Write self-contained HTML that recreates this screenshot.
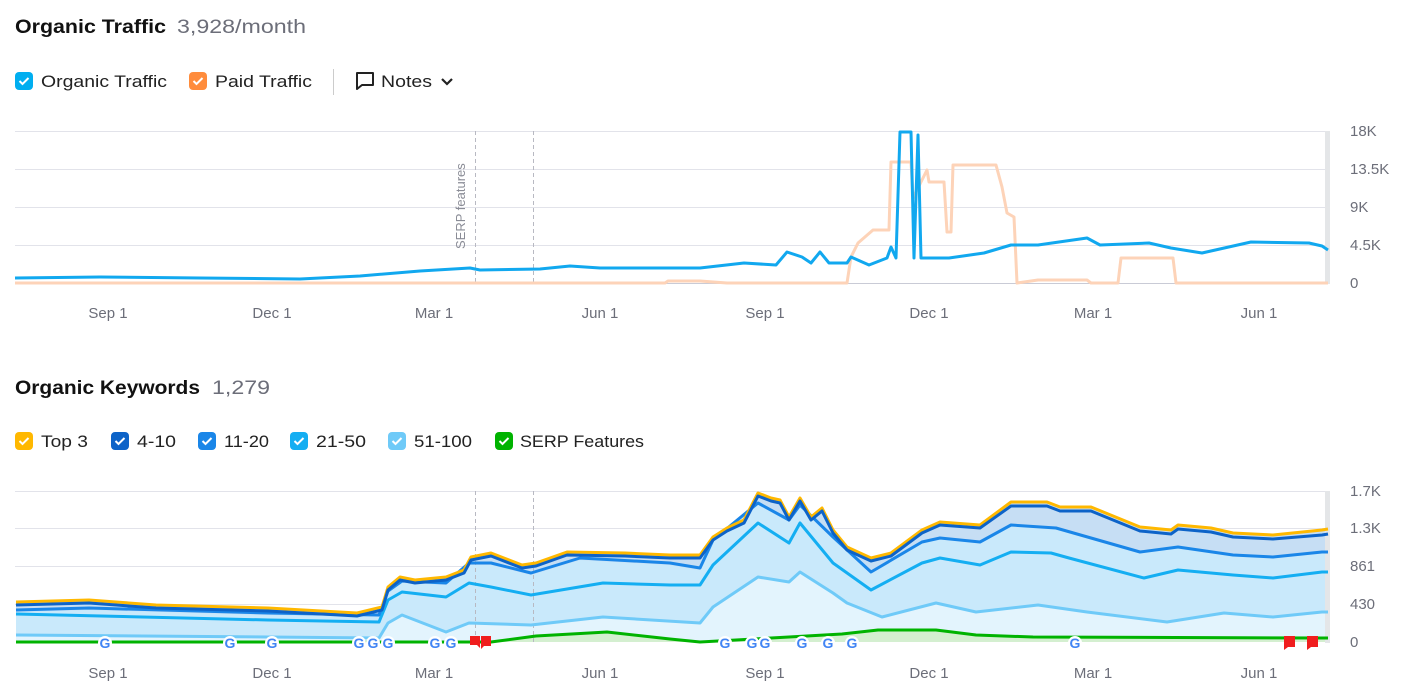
<!DOCTYPE html>
<html><head><meta charset="utf-8"><style>
html,body{margin:0;padding:0;background:#fff;width:1404px;height:689px;overflow:hidden;font-family:"Liberation Sans",sans-serif;}
svg{position:absolute;left:0;top:0}
</style></head><body>
<svg width="1404" height="689" viewBox="0 0 1404 689" xmlns="http://www.w3.org/2000/svg" font-family="Liberation Sans, sans-serif">
<text x="15" y="33" font-size="19" font-weight="bold" fill="#111" textLength="151" lengthAdjust="spacingAndGlyphs">Organic Traffic</text>
<text x="177" y="33" font-size="19" fill="#6c6e79" textLength="129" lengthAdjust="spacingAndGlyphs">3,928/month</text>
<text x="15" y="394" font-size="19" font-weight="bold" fill="#111" textLength="185" lengthAdjust="spacingAndGlyphs">Organic Keywords</text>
<text x="212" y="394" font-size="19" fill="#6c6e79" textLength="58" lengthAdjust="spacingAndGlyphs">1,279</text>

<g font-size="17" fill="#222">
<rect x="15" y="72" width="18" height="18" rx="4" fill="#00aef0"/><path d="M19.5 81 l3 3 l6 -6" stroke="#fff" stroke-width="2" fill="none"/>
<text x="41" y="87" textLength="126" lengthAdjust="spacingAndGlyphs">Organic Traffic</text>
<rect x="189" y="72" width="18" height="18" rx="4" fill="#ff8c3c"/><path d="M193.5 81 l3 3 l6 -6" stroke="#fff" stroke-width="2" fill="none"/>
<text x="215" y="87" textLength="97" lengthAdjust="spacingAndGlyphs">Paid Traffic</text>
<line x1="333.5" y1="69" x2="333.5" y2="95" stroke="#ccc"/>
<path d="M357 73 h16 v12 h-11 l-5 4 z" stroke="#222" stroke-width="2" fill="none" stroke-linejoin="round"/>
<text x="381" y="87" textLength="51" lengthAdjust="spacingAndGlyphs">Notes</text>
<path d="M442 79 l5 5 l5 -5" stroke="#222" stroke-width="2.2" fill="none"/>
</g>

<g font-size="17" fill="#222">
<rect x="15" y="432" width="18" height="18" rx="4" fill="#ffb800"/><path d="M19.5 441 l3 3 l6 -6" stroke="#fff" stroke-width="2" fill="none"/>
<text x="41" y="447" textLength="47" lengthAdjust="spacingAndGlyphs">Top 3</text>
<rect x="111" y="432" width="18" height="18" rx="4" fill="#0d63c8"/><path d="M115.5 441 l3 3 l6 -6" stroke="#fff" stroke-width="2" fill="none"/>
<text x="137" y="447" textLength="39" lengthAdjust="spacingAndGlyphs">4-10</text>
<rect x="198" y="432" width="18" height="18" rx="4" fill="#1a86e8"/><path d="M202.5 441 l3 3 l6 -6" stroke="#fff" stroke-width="2" fill="none"/>
<text x="224" y="447" textLength="45" lengthAdjust="spacingAndGlyphs">11-20</text>
<rect x="290" y="432" width="18" height="18" rx="4" fill="#14aef2"/><path d="M294.5 441 l3 3 l6 -6" stroke="#fff" stroke-width="2" fill="none"/>
<text x="316" y="447" textLength="50" lengthAdjust="spacingAndGlyphs">21-50</text>
<rect x="388" y="432" width="18" height="18" rx="4" fill="#6fcaf8"/><path d="M392.5 441 l3 3 l6 -6" stroke="#fff" stroke-width="2" fill="none"/>
<text x="414" y="447" textLength="58" lengthAdjust="spacingAndGlyphs">51-100</text>
<rect x="495" y="432" width="18" height="18" rx="4" fill="#00b300"/><path d="M499.5 441 l3 3 l6 -6" stroke="#fff" stroke-width="2" fill="none"/>
<text x="520" y="447" textLength="124" lengthAdjust="spacingAndGlyphs">SERP Features</text>
</g>

<!-- TOP CHART -->
<g stroke="#e2e3ea">
<line x1="15" y1="131.5" x2="1330" y2="131.5"/><line x1="15" y1="169.5" x2="1330" y2="169.5"/>
<line x1="15" y1="207.5" x2="1330" y2="207.5"/><line x1="15" y1="245.5" x2="1330" y2="245.5"/>
</g>
<line x1="15" y1="283.5" x2="1330" y2="283.5" stroke="#c9cbd6"/>
<rect x="1325" y="131" width="5" height="153" fill="#e4e6e8"/>
<g stroke="#b8b9c2" stroke-dasharray="4,3"><line x1="475.5" y1="131" x2="475.5" y2="283"/><line x1="533.5" y1="131" x2="533.5" y2="283"/></g>
<text transform="translate(465,249) rotate(-90)" font-size="13" fill="#8a8c96">SERP features</text>
<g font-size="15" fill="#6c6e79">
<text x="1350" y="136">18K</text><text x="1350" y="174">13.5K</text><text x="1350" y="212">9K</text><text x="1350" y="250">4.5K</text><text x="1350" y="288">0</text>
</g>
<polyline fill="none" stroke="#fdd3b8" stroke-width="3" stroke-linejoin="round" points="15,283 665,283 668,281 700,281 727,283 847,283 851,257 858,243 873,230 889,230 891,162 911,162 913,198 927,170 929,182 944,182 947,232 951,232 953,165 996,165 1002,187 1007,213 1014,217 1017,283 1038,280 1087,280 1091,283 1118,283 1121,258 1173,258 1176,283 1328,283"/>
<polyline fill="none" stroke="#11a8ef" stroke-width="3" stroke-linejoin="round" points="15,278 100,277 200,278 300,279 360,276 420,271 470,268 480,270 540,269 570,266 600,268 650,268 700,268 744,263 776,265 787,252 802,257 811,263 820,252 829,263 847,263 851,257 869,265 887,258 891,247 896,258 900,132 911,132 914,258 918,135 921,258 949,258 984,253 1011,245 1038,245 1087,238 1100,245 1149,243 1171,248 1202,253 1251,242 1309,243 1322,246 1328,250"/>
<g font-size="15" fill="#6c6e79" text-anchor="middle">
<text x="108" y="318">Sep 1</text><text x="272" y="318">Dec 1</text><text x="434" y="318">Mar 1</text><text x="600" y="318">Jun 1</text>
<text x="765" y="318">Sep 1</text><text x="929" y="318">Dec 1</text><text x="1093" y="318">Mar 1</text><text x="1259" y="318">Jun 1</text>
</g>

<!-- BOTTOM CHART -->
<g stroke="#e2e3ea">
<line x1="15" y1="491.5" x2="1330" y2="491.5"/><line x1="15" y1="528.5" x2="1330" y2="528.5"/>
<line x1="15" y1="566.5" x2="1330" y2="566.5"/><line x1="15" y1="604.5" x2="1330" y2="604.5"/>
</g>
<g font-size="15" fill="#6c6e79">
<text x="1350" y="496">1.7K</text><text x="1350" y="533">1.3K</text><text x="1350" y="571">861</text><text x="1350" y="609">430</text><text x="1350" y="647">0</text>
</g>
<polygon fill="#c6def4" points="16,602 89,600 156,605 268,608 357,613 382,607 388,587 400,577 415,580 446,577 464,570 471,557 491,553 522,565 536,563 567,552 625,553 670,555 700,555 713,537 727,528 744,520 758,493 771,498 780,500 789,517 800,498 811,517 822,508 833,530 847,547 871,558 891,553 922,530 940,522 980,525 1011,502 1047,502 1060,507 1091,507 1140,527 1171,530 1178,525 1211,528 1233,533 1273,535 1322,530 1328,529 1328,642 16,642"/>
<polygon fill="#c9e9fb" points="16,612 89,610 268,615 379,617 388,593 402,583 446,585 469,565 491,565 531,575 580,560 670,565 700,570 713,540 758,503 789,520 800,505 833,537 871,572 922,542 940,538 980,542 1011,525 1056,528 1140,552 1178,547 1233,555 1273,557 1322,552 1328,552 1328,642 16,642"/>
<polygon fill="#e3f4fd" points="16,635 268,637 379,638 388,623 402,615 446,632 469,623 531,625 603,617 700,623 713,607 758,577 789,582 800,572 833,593 847,603 882,617 936,603 976,612 1038,605 1087,612 1167,622 1224,613 1273,617 1322,612 1328,612 1328,642 16,642"/>
<polygon fill="#d4efd0" points="491,642 536,636 607,632 670,639 700,642 789,637 842,634 878,630 936,630 976,635 1033,637 1322,638 1328,638 1328,642"/>
<g stroke="#b8b9c2" stroke-dasharray="4,3"><line x1="475.5" y1="491" x2="475.5" y2="642"/><line x1="533.5" y1="491" x2="533.5" y2="642"/></g>
<rect x="1325" y="491" width="5" height="152" fill="#e4e6e8"/>
<g fill="none" stroke-linejoin="round" stroke-width="3">
<polyline stroke="#6fcaf8" points="16,635 268,637 379,638 388,623 402,615 446,632 469,623 531,625 603,617 700,623 713,607 758,577 789,582 800,572 833,593 847,603 882,617 936,603 976,612 1038,605 1087,612 1167,622 1224,613 1273,617 1322,612 1328,612"/>
<polyline stroke="#14aef2" points="16,614 268,620 379,622 388,600 402,592 446,597 469,583 491,587 531,595 603,583 670,585 700,585 713,565 758,523 789,543 800,523 833,563 871,590 922,563 940,558 980,565 1011,552 1051,553 1069,558 1144,578 1178,570 1233,575 1273,578 1322,572 1328,572"/>
<polyline stroke="#1a86e8" points="16,610 89,608 268,613 379,615 388,591 402,581 446,583 469,563 491,563 531,573 580,558 670,563 700,568 713,540 758,503 789,520 800,505 833,537 871,572 922,542 940,538 980,542 1011,525 1056,528 1140,552 1178,547 1233,555 1273,557 1322,552 1328,552"/>
<polyline stroke="#ffb800" points="16,602 89,600 156,605 268,608 357,613 382,607 388,587 400,577 415,580 446,577 464,570 471,557 491,553 522,565 536,563 567,552 625,553 670,555 700,555 713,537 727,528 744,520 758,493 771,498 780,500 789,517 800,498 811,517 822,508 833,530 847,547 871,558 891,553 922,530 940,522 980,525 1011,502 1047,502 1060,507 1091,507 1140,527 1171,530 1178,525 1211,528 1233,533 1273,535 1322,530 1328,529"/>
<polyline stroke="#0d63c8" points="16,605 89,603 156,608 268,611 357,616 382,610 388,590 400,580 415,583 446,580 464,573 471,560 491,556 522,568 536,566 567,555 625,556 670,558 700,558 713,540 727,531 744,523 758,496 771,501 780,503 789,520 800,501 811,520 822,511 833,533 847,550 871,561 891,556 922,533 940,525 980,528 1011,506 1047,506 1060,511 1091,511 1140,531 1171,534 1178,529 1211,532 1233,537 1273,539 1322,535 1328,534"/>
<polyline stroke="#00b300" points="16,642 491,642 536,636 607,632 670,639 700,642 789,637 842,634 878,630 936,630 976,635 1033,637 1322,638 1328,638"/>
</g>
<g font-size="14" font-weight="bold" text-anchor="middle">
<g fill="#fff">
<circle cx="105" cy="643" r="7"/><circle cx="230" cy="643" r="7"/><circle cx="272" cy="643" r="7"/><circle cx="359" cy="643" r="7"/><circle cx="373" cy="643" r="7"/><circle cx="388" cy="643" r="7"/><circle cx="435" cy="643" r="7"/><circle cx="451" cy="643" r="7"/><circle cx="725" cy="643" r="7"/><circle cx="752" cy="643" r="7"/><circle cx="765" cy="643" r="7"/><circle cx="802" cy="643" r="7"/><circle cx="828" cy="643" r="7"/><circle cx="852" cy="643" r="7"/><circle cx="1075" cy="643" r="7"/>
</g>
<g fill="#4285f4">
<text x="105" y="648">G</text><text x="230" y="648">G</text><text x="272" y="648">G</text><text x="359" y="648">G</text><text x="373" y="648">G</text><text x="388" y="648">G</text><text x="435" y="648">G</text><text x="451" y="648">G</text><text x="725" y="648">G</text><text x="752" y="648">G</text><text x="765" y="648">G</text><text x="802" y="648">G</text><text x="828" y="648">G</text><text x="852" y="648">G</text><text x="1075" y="648">G</text>
</g>
</g>
<g fill="#f01e1e">
<path d="M470 636 h10 v12 l-3 -3 h-7 z"/><path d="M481 636 h10 v10 h-7 l-3 3 z"/>
<path d="M1284 636 h11 v11 h-7 l-4 3 z"/><path d="M1307 636 h11 v11 h-7 l-4 3 z"/>
</g>
<g font-size="15" fill="#6c6e79" text-anchor="middle">
<text x="108" y="678">Sep 1</text><text x="272" y="678">Dec 1</text><text x="434" y="678">Mar 1</text><text x="600" y="678">Jun 1</text>
<text x="765" y="678">Sep 1</text><text x="929" y="678">Dec 1</text><text x="1093" y="678">Mar 1</text><text x="1259" y="678">Jun 1</text>
</g>
</svg>
</body></html>
